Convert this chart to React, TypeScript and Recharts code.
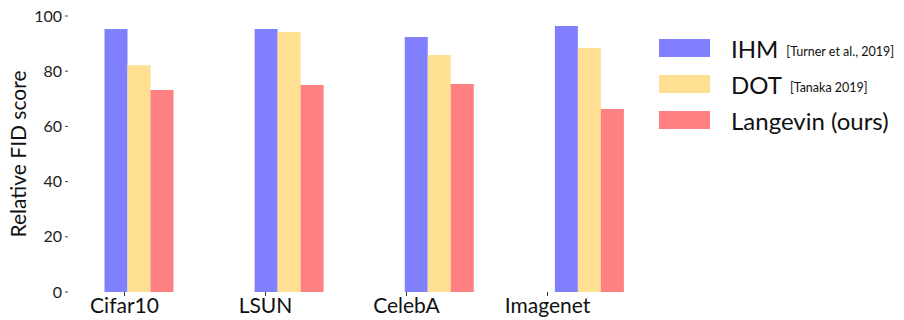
import { BarChart, Bar, XAxis, YAxis } from "recharts";

const categories = ["Cifar10", "LSUN", "CelebA", "Imagenet"];
const ihm = [95.3, 95.3, 92.4, 96.4];
const dot = [82.2, 94.2, 85.9, 88.4];
const langevin = [73.2, 75.0, 75.4, 66.3];
const yTicks = [0, 20, 40, 60, 80, 100];

const series = [
  { key: "ihm", name: "IHM", note: "[Turner et al., 2019]", color: "#8080ff" },
  { key: "dot", name: "DOT", note: "[Tanaka 2019]", color: "#ffdf91" },
  { key: "langevin", name: "Langevin (ours)", note: "", color: "#ff8080" },
];

const data = categories.map((name, i) => ({
  name,
  ihm: ihm[i],
  dot: dot[i],
  langevin: langevin[i],
}));

const FONT = "Lato, 'DejaVu Sans', sans-serif";

function YTick({ x, y, payload }: any) {
  return (
    <g>
      <text x={x + 8} y={y} dy="0.35em" textAnchor="end" fontSize={16} fill="#222" fontFamily={FONT}>
        {payload.value}
      </text>
      <line x1={x + 11} x2={x + 14} y1={y} y2={y} stroke="#444" strokeWidth={1} />
    </g>
  );
}

function YLabel({ viewBox }: any) {
  const cx = 17;
  const cy = viewBox.y + viewBox.height / 2;
  return (
    <text
      x={cx}
      y={cy}
      transform={`rotate(-90, ${cx}, ${cy})`}
      textAnchor="middle"
      dominantBaseline="central"
      fontSize={21}
      fill="#111"
      fontFamily={FONT}
    >
      Relative FID score
    </text>
  );
}

// legend drawn as an overlay so it doesn't shrink the plot area
function LegendBox() {
  return (
    <div style={{ position: "absolute", left: 659, top: 30, fontFamily: FONT, color: "#111" }}>
      {series.map((s) => (
        <div key={s.key} style={{ display: "flex", alignItems: "center", height: 36 }}>
          <div style={{ width: 51, height: 18, background: s.color, marginRight: 21 }} />
          <span style={{ fontSize: 24 }}>{s.name}</span>
          {s.note && <span style={{ fontSize: 12.5, marginLeft: 8, marginTop: 6 }}>{s.note}</span>}
        </div>
      ))}
    </div>
  );
}

export default function App() {
  return (
    <div style={{ position: "absolute", left: 0, top: 0, width: 904, height: 320, background: "#fff" }}>
      <BarChart
        width={904}
        height={320}
        data={data}
        margin={{ top: 16, right: 240, bottom: 0, left: 0 }}
        barGap={0}
        barSize={23}
      >
        <XAxis xAxisId="bars" dataKey="name" hide height={0} padding={{ left: 9.5, right: 0 }} />
        <XAxis
          xAxisId="labels"
          dataKey="name"
          height={28}
          axisLine={false}
          tickSize={4}
          tickMargin={2}
          tickLine={{ stroke: "#333" }}
          padding={{ left: 0, right: 46 }}
          tick={{ fontSize: 21, fill: "#111", fontFamily: FONT }}
          interval={0}
        />
        <YAxis
          width={54}
          domain={[0, 100]}
          ticks={yTicks}
          axisLine={false}
          tickLine={false}
          tickSize={0}
          tickMargin={0}
          tick={<YTick />}
          label={<YLabel />}
        />
        {series.map((s) => (
          <Bar key={s.key} xAxisId="bars" dataKey={s.key} name={s.name} fill={s.color} isAnimationActive={false} />
        ))}
      </BarChart>
      <LegendBox />
    </div>
  );
}
